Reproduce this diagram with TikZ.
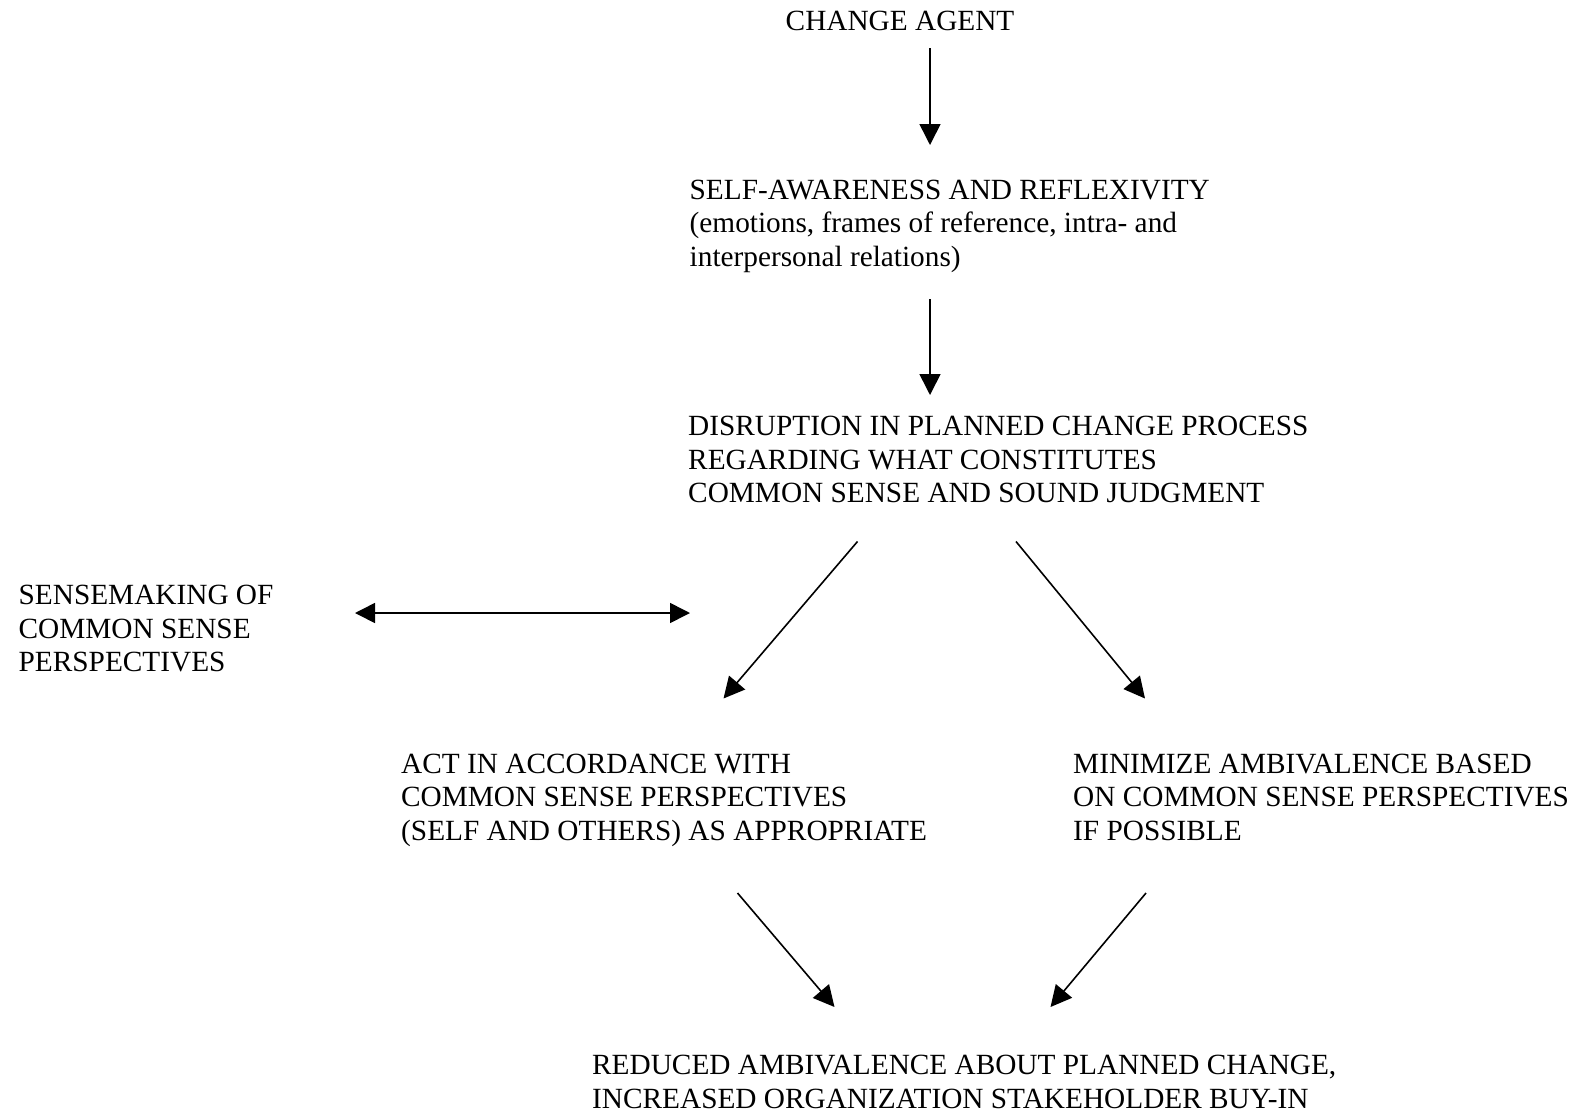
\documentclass[tikz,border=0pt]{standalone}
\usepackage{fontspec}
\setmainfont{Liberation Serif}
\usetikzlibrary{arrows.meta}
\newcommand\lnstrut{\rule{0pt}{24pt}}
\begin{document}
\begin{tikzpicture}[x=1pt,y=-1pt,
  lbl/.style={anchor=north west, inner sep=0pt, align=left,
    font=\fontsize{29.3}{33.4}\selectfont},
  arr/.style={line width=1.6pt, -{Triangle[length=21pt,width=21pt]}},
  darr/.style={line width=1.6pt,
    {Triangle[length=20pt,width=20pt]}-{Triangle[length=20pt,width=20pt]}}]
\useasboundingbox (0,0) rectangle (1585,1111);

% text nodes (y = first baseline - 24)
\node[lbl] (agent) at (785.5,6.5) {\lnstrut CHANGE AGENT};
\node[lbl] (self) at (689.5,175) {\lnstrut SELF-AWARENESS AND REFLEXIVITY\\
  (emotions, frames of reference, intra- and\\ interpersonal relations)};
\node[lbl] (disr) at (688,411.5) {\lnstrut DISRUPTION IN PLANNED CHANGE PROCESS\\
  REGARDING WHAT CONSTITUTES\\ COMMON SENSE AND SOUND JUDGMENT};
\node[lbl] (sense) at (18.5,580.5) {\lnstrut SENSEMAKING OF\\ COMMON SENSE\\ PERSPECTIVES};
\node[lbl] (act) at (401,749) {\lnstrut ACT IN ACCORDANCE WITH\\
  COMMON SENSE PERSPECTIVES\\ (SELF AND OTHERS) AS APPROPRIATE};
\node[lbl] (mini) at (1073,749) {\lnstrut MINIMIZE AMBIVALENCE BASED\\
  ON COMMON SENSE PERSPECTIVES\\ IF POSSIBLE};
\node[lbl] (red) at (592,1050.5) {\lnstrut REDUCED AMBIVALENCE ABOUT PLANNED CHANGE,\\
  INCREASED ORGANIZATION STAKEHOLDER BUY-IN};

% connector end points
\coordinate (a1s) at (930,48);
\coordinate (a1e) at (930,145);
\coordinate (a2s) at (930,299);
\coordinate (a2e) at (930,395);
\coordinate (dl) at (355,613);
\coordinate (dr) at (690,613);
\coordinate (lls) at (857.5,541.5);
\coordinate (lle) at (723.5,698.5);
\coordinate (lrs) at (1016,541.5);
\coordinate (lre) at (1145,698.5);
\coordinate (bls) at (737.5,893);
\coordinate (ble) at (834.5,1007);
\coordinate (brs) at (1146,893);
\coordinate (bre) at (1050.5,1007);

\draw[arr] (a1s) -- (a1e);
\draw[arr] (a2s) -- (a2e);
\draw[darr] (dl) -- (dr);
\draw[arr] (lls) -- (lle);
\draw[arr] (lrs) -- (lre);
\draw[arr] (bls) -- (ble);
\draw[arr] (brs) -- (bre);
\end{tikzpicture}
\end{document}
